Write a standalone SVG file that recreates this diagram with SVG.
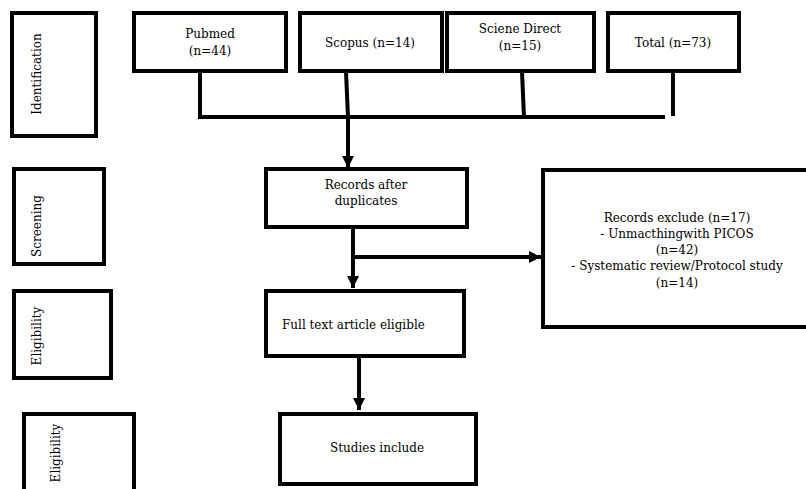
<svg xmlns="http://www.w3.org/2000/svg" width="806" height="489" viewBox="0 0 806 489">
<style>
.box{fill:#fff;stroke:#000;stroke-width:4}
.ln{fill:none;stroke:#000;stroke-width:4}
text{font-family:"DejaVu Serif","Liberation Serif",serif;font-size:12px;fill:#000}
.c{text-anchor:middle}
</style>
<defs>
<marker id="ah" viewBox="0 0 10 10" refX="10" refY="5" markerWidth="3.2" markerHeight="3" orient="auto" markerUnits="strokeWidth">
<path d="M0,0 L10,5 L0,10 z" fill="#000"/>
</marker>
</defs>
<rect width="806" height="489" fill="#fff"/>
<g id="connectors">
<path class="ln" d="M200,72 V117 H665"/>
<path class="ln" d="M346,72 L348,117"/>
<path class="ln" d="M522,72 L524,117"/>
<path class="ln" d="M673,72 V116"/>
<path class="ln" d="M348,117 V168" marker-end="url(#ah)"/>
<path class="ln" d="M353,228 V288" marker-end="url(#ah)"/>
<path class="ln" d="M353,257 H541" marker-end="url(#ah)"/>
<path class="ln" d="M359,357 V410" marker-end="url(#ah)"/>
</g>
<g id="identification"><rect class="box" x="12" y="13" width="84" height="123"/><text class="c" transform="translate(41,74) rotate(-90)">Identification</text></g>
<g id="screening"><rect class="box" x="14" y="169" width="90" height="95"/><text class="c" transform="translate(41,226) rotate(-90)">Screening</text></g>
<g id="eligibility1"><rect class="box" x="14" y="291" width="97" height="87"/><text class="c" transform="translate(41,336) rotate(-90)">Eligibility</text></g>
<g id="eligibility2"><rect class="box" x="24" y="414" width="110" height="80"/><text class="c" transform="translate(60,453) rotate(-90)">Eligibility</text></g>
<g id="pubmed"><rect class="box" x="134" y="13" width="152" height="58"/><text class="c" x="210" y="38">Pubmed</text><text class="c" x="210" y="55">(n=44)</text></g>
<g id="scopus"><rect class="box" x="300" y="13" width="142" height="58"/><text class="c" x="370" y="47">Scopus (n=14)</text></g>
<g id="sciencedirect"><rect class="box" x="447" y="13" width="147" height="58"/><text class="c" x="520" y="33">Sciene Direct</text><text class="c" x="520" y="50">(n=15)</text></g>
<g id="total"><rect class="box" x="608" y="13" width="131" height="58"/><text class="c" x="673" y="47">Total (n=73)</text></g>
<g id="records"><rect class="box" x="266" y="169" width="201" height="58"/><text class="c" x="366" y="189">Records after</text><text class="c" x="366" y="205">duplicates</text></g>
<g id="excluded"><rect class="box" x="543" y="170" width="270" height="157"/><text class="c" x="677" y="222">Records exclude (n=17)</text><text class="c" x="677" y="238">- Unmacthingwith PICOS</text><text class="c" x="677" y="254">(n=42)</text><text class="c" x="677" y="270">- Systematic review/Protocol study</text><text class="c" x="677" y="287">(n=14)</text></g>
<g id="fulltext"><rect class="box" x="266" y="291" width="198" height="65"/><text x="282" y="329">Full text article eligible</text></g>
<g id="studies"><rect class="box" x="280" y="414" width="196" height="70"/><text class="c" x="377" y="452">Studies include</text></g>
</svg>
